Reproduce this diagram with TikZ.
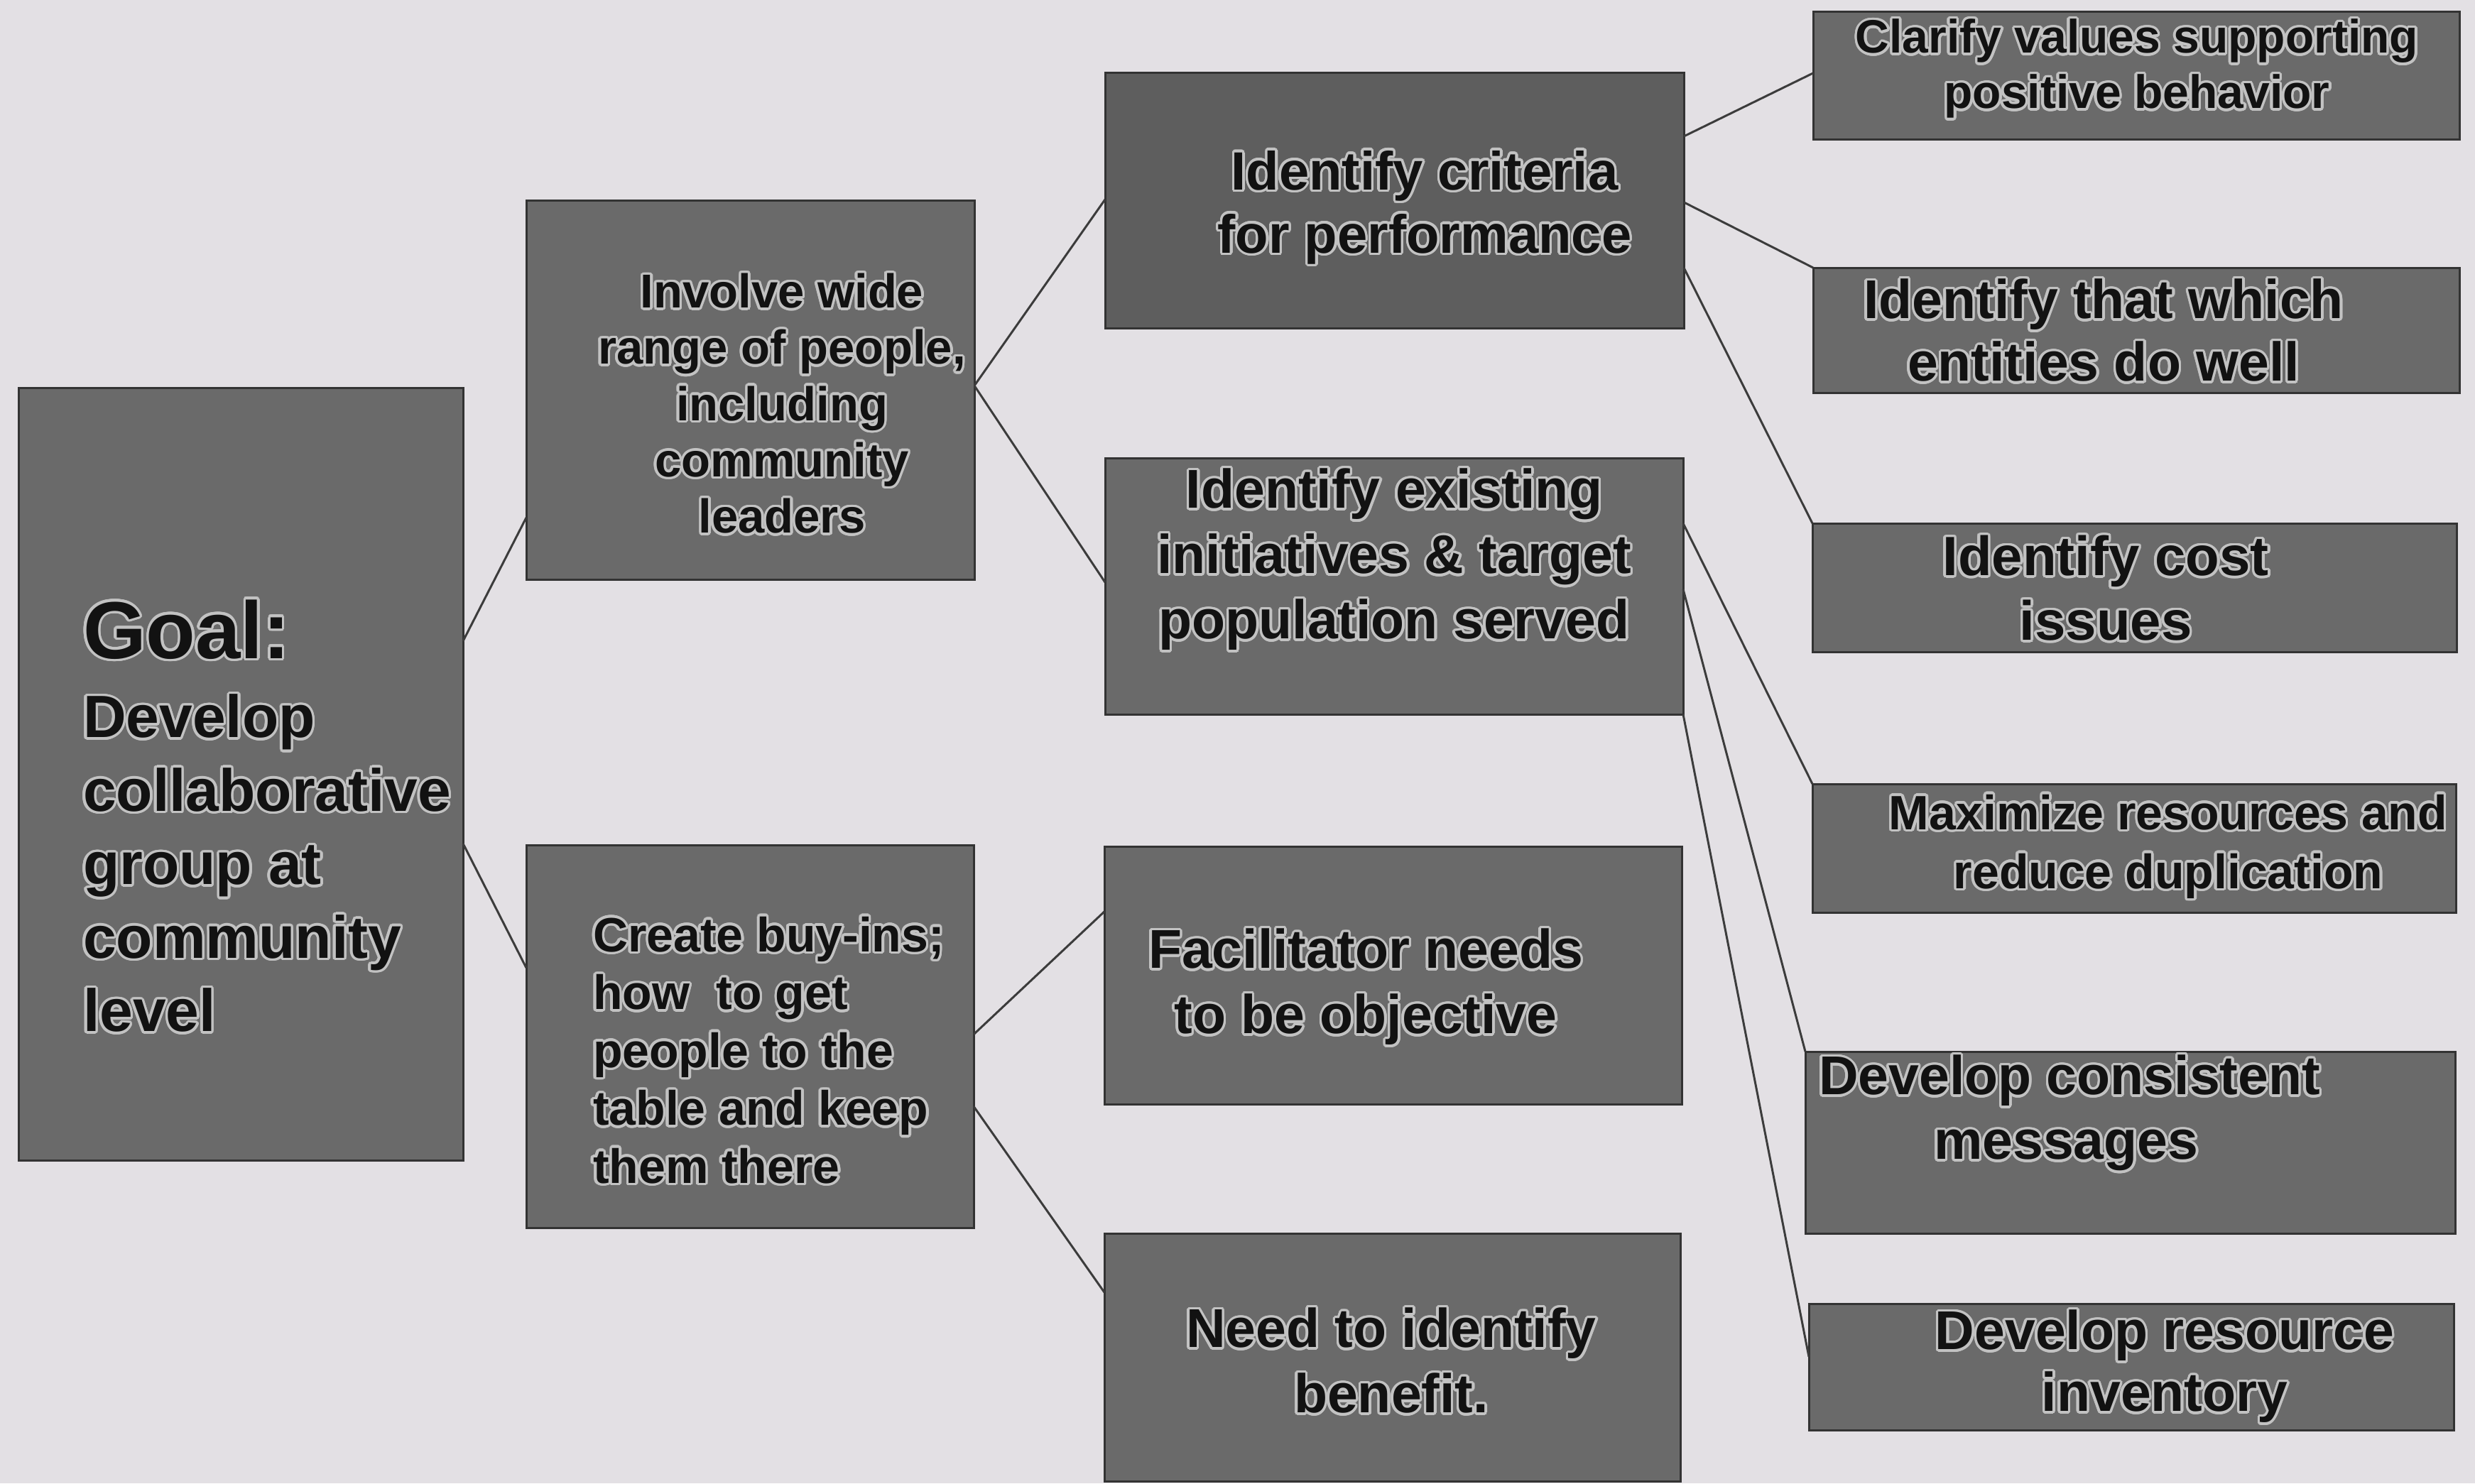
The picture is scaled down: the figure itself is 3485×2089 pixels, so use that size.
\documentclass[tikz,border=0pt]{standalone}
\usepackage{fontspec}
\setmainfont{Liberation Sans}
\usepackage[copies]{contour}
\usetikzlibrary{calc}
\definecolor{paper}{HTML}{E3E0E4}
\definecolor{boxfill}{HTML}{6A6A6A}
\definecolor{boxdark}{HTML}{5E5E5E}
\definecolor{edge}{HTML}{333333}
\definecolor{wire}{HTML}{3C3C3C}
\definecolor{halo}{HTML}{C2C2C2}
\definecolor{ink}{HTML}{121212}
\contourlength{3.5pt}
\contournumber{24}
\newcommand\setfs[2]{\fontsize{#1pt}{#2pt}\selectfont\bfseries}
\newcommand\hl[1]{\contour{halo}{#1}}
\tikzset{
  box/.style={draw=edge, line width=3pt, fill=boxfill, inner sep=0pt, outer sep=0pt, rectangle},
  label/.style={inner sep=0pt, outer sep=0pt, text=ink},
  wirestyle/.style={draw=wire, line width=3pt}
}
\begin{document}
\begin{tikzpicture}[x=1pt,y=-1pt]
\fill[paper] (0,0) rectangle (3485,2089);
\useasboundingbox (0,0) rectangle (3485,2089);

% boxes
\node[box, minimum width=626pt, minimum height=1088pt] (goal) at (339,1090) {};
\node[box, minimum width=631pt, minimum height=534pt] (inv) at (1056.5,549) {};
\node[box, minimum width=630pt, minimum height=539pt] (create) at (1056,1459.5) {};
\node[box, fill=boxdark, minimum width=815pt, minimum height=360pt] (crit) at (1963.5,282) {};
\node[box, minimum width=814pt, minimum height=361pt] (exist) at (1963,825.5) {};
\node[box, minimum width=813pt, minimum height=363pt] (facil) at (1961.5,1373.5) {};
\node[box, minimum width=811pt, minimum height=349pt] (need) at (1960.5,1911.5) {};
\node[box, minimum width=910pt, minimum height=180pt] (clar) at (3008,106) {};
\node[box, minimum width=910pt, minimum height=176pt] (that) at (3008,465) {};
\node[box, minimum width=907pt, minimum height=181pt] (cost) at (3005.5,827.5) {};
\node[box, minimum width=906pt, minimum height=181pt] (max) at (3005,1194.5) {};
\node[box, minimum width=915pt, minimum height=256pt] (cons) at (2999.5,1609) {};
\node[box, minimum width=908pt, minimum height=178pt] (res) at (3001,1925) {};

% connectors
\draw[wirestyle] ($(goal.north east)!0.328!(goal.south east)$) -- ($(inv.north west)!0.837!(inv.south west)$);
\draw[wirestyle] ($(goal.north east)!0.590!(goal.south east)$) -- ($(create.north west)!0.321!(create.south west)$);
\draw[wirestyle] ($(inv.north east)!0.489!(inv.south east)$) -- ($(crit.north west)!0.497!(crit.south west)$);
\draw[wirestyle] ($(inv.north east)!0.489!(inv.south east)$) -- ($(exist.north west)!0.485!(exist.south west)$);
\draw[wirestyle] ($(create.north east)!0.495!(create.south east)$) -- ($(facil.north west)!0.253!(facil.south west)$);
\draw[wirestyle] ($(create.north east)!0.683!(create.south east)$) -- ($(need.north west)!0.238!(need.south west)$);
\draw[wirestyle] ($(crit.north east)!0.25!(crit.south east)$) -- ($(clar.north west)!0.483!(clar.south west)$);
\draw[wirestyle] ($(crit.north east)!0.508!(crit.south east)$) -- (that.north west);
\draw[wirestyle] ($(crit.north east)!0.764!(crit.south east)$) -- (cost.north west);
\draw[wirestyle] ($(exist.north east)!0.255!(exist.south east)$) -- (max.north west);
\draw[wirestyle] ($(exist.north east)!0.512!(exist.south east)$) -- (cons.north west);
\draw[wirestyle] (exist.south east) -- ($(res.north west)!0.42!(res.south west)$);

% texts
\node[label, anchor=base west, font=\setfs{114}{130}] (goaltitle) at (117,927) {\hl{Goal:}};
\node[label, anchor=north west, align=left, font=\setfs{84}{103.5}] (goalbody) at (117,978)
  {\hl{Develop}\\\hl{collaborative}\\\hl{group at}\\\hl{community}\\\hl{level}};
\node[label, anchor=north, align=center, font=\setfs{67}{79.3}] (invtext) at (1101,385)
  {\hl{Involve wide}\\\hl{range of people,}\\\hl{including}\\\hl{community}\\\hl{leaders}};
\node[label, anchor=north west, align=left, font=\setfs{68}{81.5}] (createtext) at (835,1291)
  {\hl{Create buy-ins;}\\\hl{how\ \ to get}\\\hl{people to the}\\\hl{table and keep}\\\hl{them there}};
\node[label, anchor=north, align=center, font=\setfs{76}{89}] (crittext) at (2006,212)
  {\hl{Identify criteria}\\\hl{for performance}};
\node[label, anchor=north, align=center, font=\setfs{77}{92}] (existtext) at (1963,660)
  {\hl{Identify existing}\\\hl{initiatives \& target}\\\hl{population served}};
\node[label, anchor=north, align=center, font=\setfs{77}{92}] (faciltext) at (1923,1308)
  {\hl{Facilitator needs}\\\hl{to be objective}};
\node[label, anchor=north, align=center, font=\setfs{77}{92}] (needtext) at (1959,1842)
  {\hl{Need to identify}\\\hl{benefit.}};
\node[label, anchor=north, align=center, font=\setfs{66}{78}] (clartext) at (3009,27)
  {\hl{Clarify values supporting}\\\hl{positive behavior}};
\node[label, anchor=north, align=center, font=\setfs{77}{88}] (thattext) at (2962,393)
  {\hl{Identify that which}\\\hl{entities do well}};
\node[label, anchor=north, align=center, font=\setfs{78}{91}] (costtext) at (2965,754)
  {\hl{Identify cost}\\\hl{issues}};
\node[label, anchor=north, align=center, font=\setfs{68}{83}] (maxtext) at (3053,1119)
  {\hl{Maximize resources and}\\\hl{reduce duplication}};
\node[label, anchor=north west, align=left, font=\setfs{77}{91}] (constext) at (2561,1486)
  {\hl{Develop consistent}\\\hspace*{162pt}\hl{messages}};
\node[label, anchor=north, align=center, font=\setfs{77}{87}] (restext) at (3048,1845)
  {\hl{Develop resource}\\\hl{inventory}};
\end{tikzpicture}
\end{document}
